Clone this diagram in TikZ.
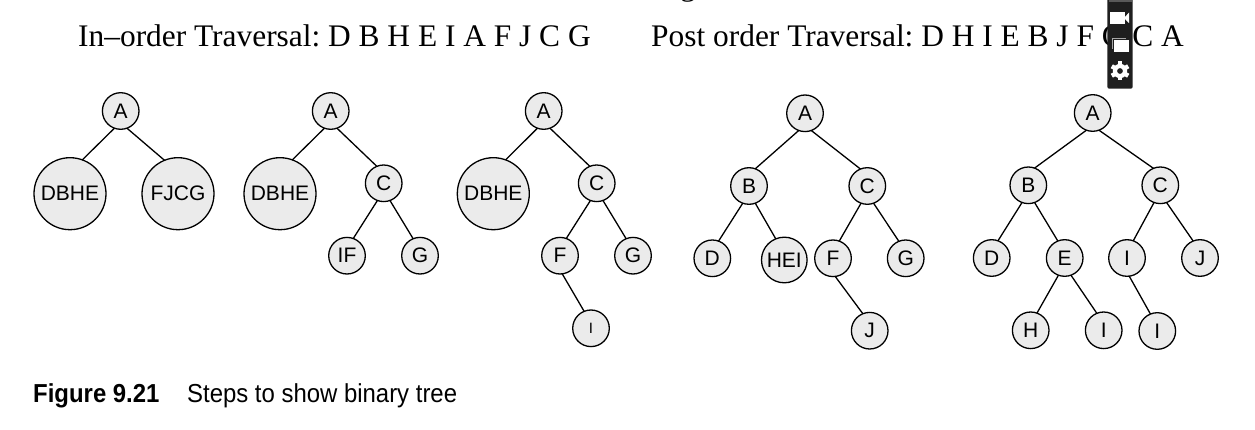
\documentclass[tikz,border=0pt]{standalone}
\usepackage{fontspec}
\setmainfont{Liberation Serif}
\setsansfont{Liberation Sans}
\newfontfamily\capfont[FakeStretch=0.92]{Liberation Sans}
\definecolor{vertgray}{HTML}{EBEBEB}
\definecolor{barblack}{HTML}{1F1F1F}
\tikzset{
    vert/.style={draw=black, fill=vertgray, circle, line width=1.3pt, inner sep=0pt, outer sep=0pt,
        minimum size=36.6pt, font=\fontsize{21}{21}\sffamily},
    bigvert/.style={vert, minimum size=72pt},
    midvert/.style={vert, minimum size=45.6pt},
    edge/.style={black, line width=1.3pt},
    travtext/.style={inner sep=0pt, font=\fontsize{31.4}{34}\selectfont},
    captext/.style={inner sep=0pt, anchor=base west, font=\fontsize{26}{29}\capfont}
}
\frenchspacing
\begin{document}
\begin{tikzpicture}[x=1pt,y=-1pt]
    \useasboundingbox (0,0) rectangle (1255,430);
    % headings
    \node[travtext, anchor=base west] (inorder) at (78,47) {In--order Traversal: D B H E I A F J C G};
    \node[travtext, anchor=base west] (postorder) at (651,47) {Post order Traversal: D H I E B J F G C A};
    \node[travtext, anchor=base] (topcut) at (688,-4.5) {g};
    % first tree
    \node[vert] (a1) at (120.7,111) {A};
    \node[bigvert] (dbhe1) at (70,193.7) {DBHE};
    \node[bigvert] (fjcg1) at (178,193.7) {FJCG};
    % second tree
    \node[vert] (a2) at (330.7,111) {A};
    \node[bigvert] (dbhe2) at (280,193.7) {DBHE};
    \node[vert] (c2) at (383.7,183.3) {C};
    \node[vert] (if2) at (347,255.7) {IF};
    \node[vert] (g2) at (420,255.7) {G};
    % third tree
    \node[vert] (a3) at (543.7,111) {A};
    \node[bigvert] (dbhe3) at (493.3,193.7) {DBHE};
    \node[vert] (c3) at (596.7,183.3) {C};
    \node[vert] (f3) at (560,255.7) {F};
    \node[vert] (g3) at (633,255.7) {G};
    \node[vert] (i3) at (591,328.3) {\fontsize{15}{15}\selectfont I};
    % fourth tree
    \node[vert] (a4) at (805,113.3) {A};
    \node[vert] (b4) at (749,186) {B};
    \node[vert] (c4) at (867.3,186) {C};
    \node[vert] (d4) at (712.3,258.3) {D};
    \node[midvert] (hei4) at (784.3,260) {HEI};
    \node[vert] (f4) at (833,258.3) {F};
    \node[vert] (g4) at (905.7,258.3) {G};
    \node[vert] (j4) at (869.7,330.7) {J};
    % fifth tree
    \node[vert] (a5) at (1092.7,113) {A};
    \node[vert] (b5) at (1028.3,185.3) {B};
    \node[vert] (c5) at (1160.3,185.3) {C};
    \node[vert] (d5) at (991.7,258) {D};
    \node[vert] (e5) at (1064.7,258) {E};
    \node[vert] (ia5) at (1127,258) {I};
    \node[vert] (j5) at (1200,258) {J};
    \node[vert] (h5) at (1030.7,330.3) {H};
    \node[vert] (ib5) at (1103.7,330.3) {I};
    \node[vert] (ic5) at (1157.3,331) {I};
    % edges
    \foreach \up/\kid in {a1/dbhe1, a2/dbhe2, c2/if2, a3/dbhe3, c3/f3, a4/b4, b4/d4, c4/f4, a5/b5, b5/d5, c5/ia5, e5/h5}
        \draw[edge] (\up.250) -- (\kid.70);
    \foreach \up/\kid in {a1/fjcg1, a2/c2, c2/g2, a3/c3, c3/g3, a4/c4, b4/hei4, c4/g4, a5/c5, b5/e5, c5/j5, e5/ib5}
        \draw[edge] (\up.290) -- (\kid.112);
    \foreach \up/\kid in {f3/i3, f4/j4, ia5/ic5}
        \draw[edge] (\up.277) -- (\kid.112);
    % caption
    \node[captext] (capnum) at (33,402.5) {\bfseries Figure 9.21};
    \node[captext] (captitle) at (187,402.5) {Steps to show binary tree};
    % toolbar over the text
    \fill[barblack, rounded corners=2pt] (1107.3,-4) rectangle (1132.7,88.7);
    \fill[gray!70!black] (1108.5,-4) rectangle (1131.5,2);
    \fill[white] (1110,11.7) rectangle (1125,24);
    \fill[white] (1125,17) -- (1129,12.5) -- (1129,23.2) -- (1125,19) -- cycle;
    \draw[gray!70, line width=0.8pt] (1112.5,49) -- (1112.5,38.5) -- (1126,38.5);
    \fill[white] (1113.5,40) rectangle (1129,52.5);
    \fill[white, even odd rule] (1120,71) circle (3) circle (7.2);
    \foreach \ang in {0,60,...,300}
        \fill[white, rotate around={\ang:(1120,71)}] (1117.8,61.5) rectangle (1122.2,66);
\end{tikzpicture}
\end{document}
